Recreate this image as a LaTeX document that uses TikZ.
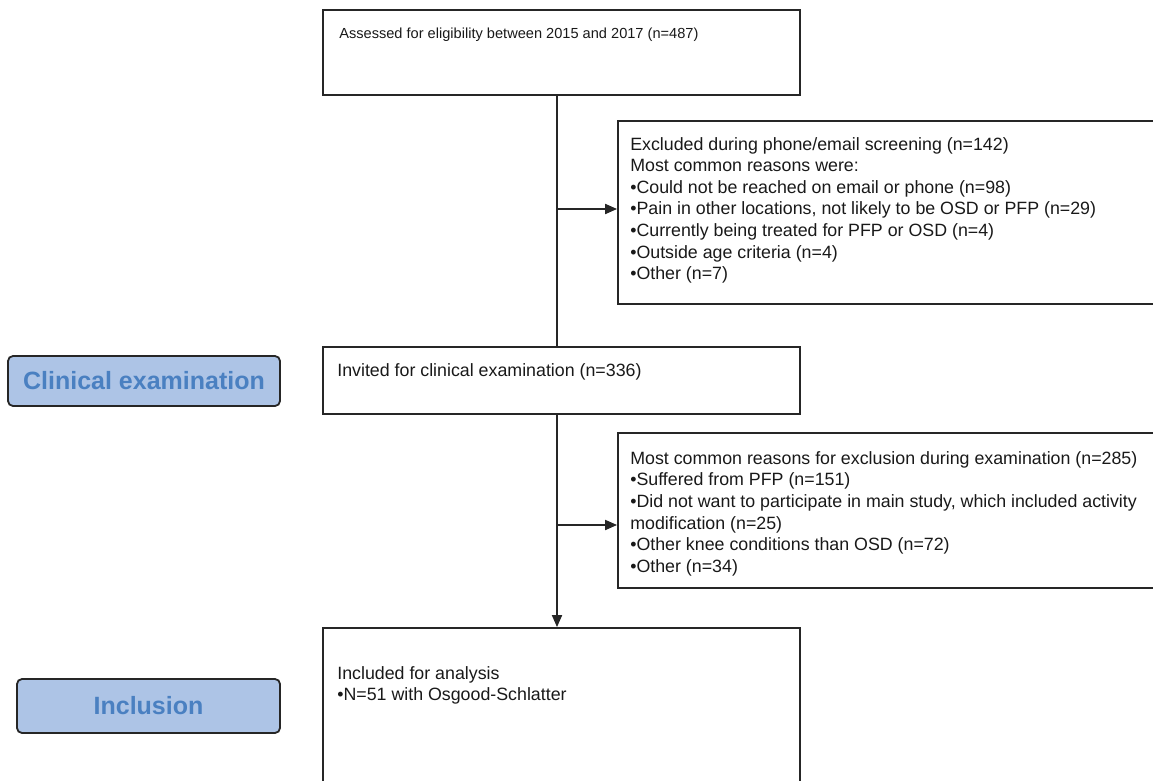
\documentclass[tikz,border=0pt]{standalone}
\usepackage{fontspec}
\setmainfont{Liberation Sans}
\usetikzlibrary{positioning,arrows.meta}
\definecolor{phasefill}{HTML}{ADC4E6}
\definecolor{phasetext}{HTML}{4A80C1}
\definecolor{linegray}{HTML}{262626}
\tikzset{
  flowbox/.style={draw=linegray, line width=1.8pt, rectangle, inner sep=0pt},
  boxtext/.style={inner sep=0pt, align=left, text=black!90, font=\fontsize{17.8}{21.6}\selectfont},
  smalltext/.style={boxtext, font=\fontsize{14.6}{18}\selectfont},
  phase/.style={draw=linegray, line width=1.8pt, rounded corners=5pt, fill=phasefill, text=phasetext, inner sep=0pt, font=\fontsize{25}{30}\selectfont\bfseries},
  flowline/.style={draw=linegray, line width=1.8pt},
  flowarrow/.style={flowline, -{Triangle[length=12pt,width=10pt]}}
}
\begin{document}
\begin{tikzpicture}[x=1pt,y=-1pt]
                \useasboundingbox (0,0) rectangle (1153,781);
                \node[flowbox, minimum width=477pt, minimum height=85pt] (top) at (561.5,52.5) {}; % cribado
                \node[flowbox, minimum width=538pt, minimum height=183pt] (excl1) at (887,212.5) {};
                \node[flowbox, minimum width=477pt, minimum height=67pt] (invited) at (561.5,380.5) {};
                \node[flowbox, minimum width=538pt, minimum height=155pt] (excl2) at (887,510.5) {};
                \node[flowbox, minimum width=477pt, minimum height=172pt] (incl) at (561.5,714) {};
                \node[phase, minimum width=272pt, minimum height=50pt] (clin) at (144,381) {Clinical examination};
                \node[phase, minimum width=263pt, minimum height=54pt] (inc) at (148.5,706) {Inclusion};
                \node[smalltext, below right=19pt and 17pt of top.north west] (toptext) {Assessed for eligibility between 2015 and 2017 (n=487)};
                \node[boxtext, below right=17pt and 13pt of excl1.north west] (excltext1) {Excluded during phone/email screening (n=142)\\
                  Most common reasons were:\\
                  •Could not be reached on email or phone (n=98)\\
                  •Pain in other locations, not likely to be OSD or PFP (n=29)\\
                  •Currently being treated for PFP or OSD (n=4)\\
                  •Outside age criteria (n=4)\\
                  •Other (n=7)};
                \node[boxtext, below right=17pt and 15pt of invited.north west] (invtext) {Invited for clinical examination (n=336)};
                \node[boxtext, below right=19pt and 13pt of excl2.north west] (excltext2) {Most common reasons for exclusion during examination (n=285)\\
                  •Suffered from PFP (n=151)\\
                  •Did not want to participate in main study, which included activity\\
                  modification (n=25)\\
                  •Other knee conditions than OSD (n=72)\\
                  •Other (n=34)};
                \node[boxtext, below right=39pt and 15pt of incl.north west] (incltext) {Included for analysis\\
                  •N=51 with Osgood-Schlatter};
                \coordinate (spine) at (557,0); % linea central
                \coordinate (b1) at (557,209);
                \coordinate (b2) at (557,525);
                \draw[flowline] (top.south -| spine) -- (invited.north -| spine);
                \draw[flowarrow] (invited.south -| spine) -- (incl.north -| spine);
                \draw[flowarrow] (b1) -- (b1 -| excl1.west);
                \draw[flowarrow] (b2) -- (b2 -| excl2.west);
\end{tikzpicture}
\end{document}
